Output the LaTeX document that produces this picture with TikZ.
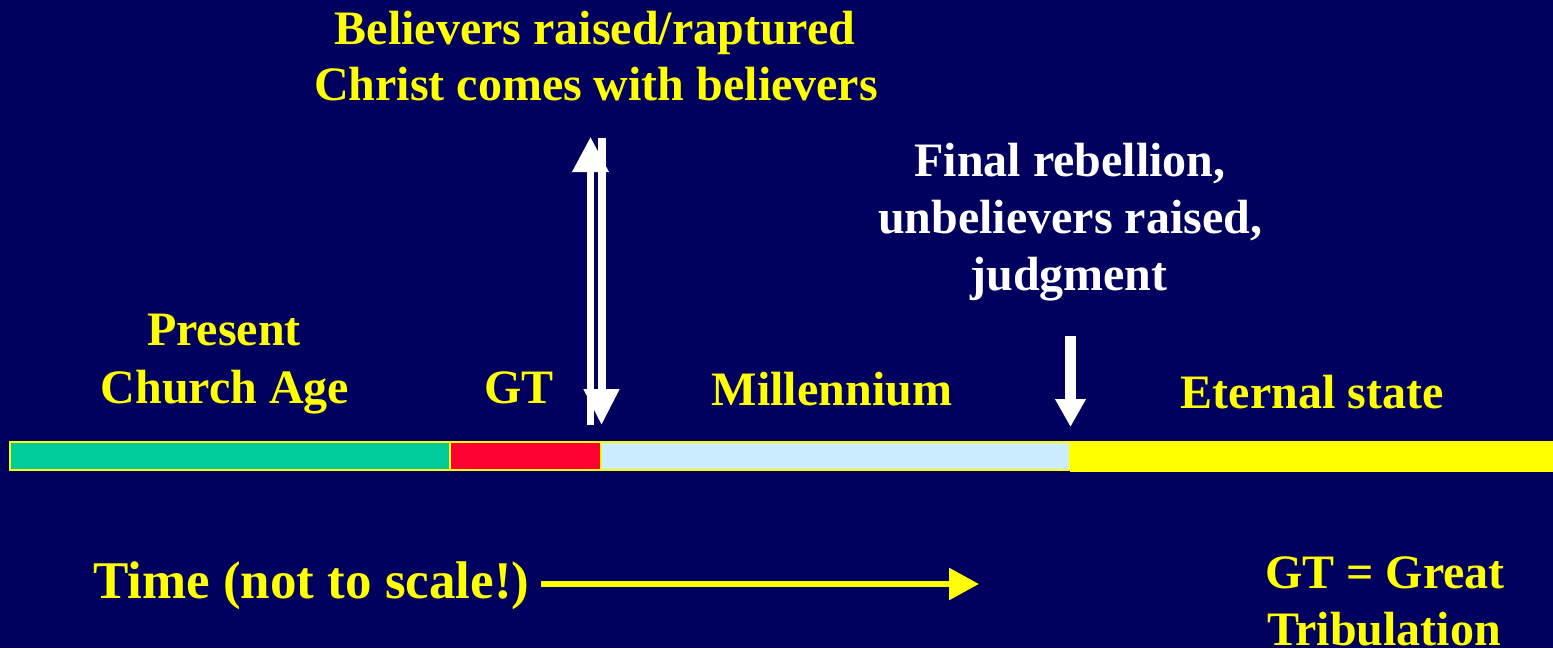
\documentclass[tikz,border=0pt]{standalone}
\usepackage{fontspec}
\setmainfont{Liberation Serif}
\usetikzlibrary{arrows.meta}
\definecolor{bgblue}{RGB}{0,0,94}
\definecolor{segGreen}{RGB}{0,204,153}
\definecolor{segRed}{RGB}{255,0,51}
\definecolor{segBlue}{RGB}{204,236,255}
\definecolor{segYellow}{RGB}{255,255,0}
\tikzset{
  lbl/.style={anchor=base, inner sep=0pt, font=\fontsize{48}{57}\selectfont\bfseries, text=segYellow},
  wlbl/.style={lbl, text=white},
  seg/.style={draw=segYellow, line width=2.5pt},
}
\begin{document}
\begin{tikzpicture}[x=1pt,y=-1pt]
\fill[bgblue] (0,0) rectangle (1553,648);
\useasboundingbox (0,0) rectangle (1553,648);

% timeline bar
\fill[segYellow] (1070,441) rectangle (1553,472);
\path[seg, fill=segGreen] (10,442) rectangle (450,470);
\path[seg, fill=segRed] (450,442) rectangle (601,470);
\path[seg, fill=segBlue] (601,442) rectangle (1070,470);

% labels
\node[lbl] (rapt1) at (595,44) {Believers raised/raptured};
\node[lbl] (rapt2) at (596,100) {Christ comes with believers};
\node[wlbl] (fin1) at (1070,176) {Final rebellion,};
\node[wlbl] (fin2) at (1070,233) {unbelievers raised,};
\node[wlbl] (fin3) at (1069,290) {judgment};
\node[lbl] (pres1) at (224,345) {Present};
\node[lbl] (pres2) at (225,403) {Church Age};
\node[lbl] (gt) at (519,403) {GT};
\node[lbl] (mill) at (832,405) {Millennium};
\node[lbl] (etern) at (1312,408) {Eternal state};
\node[lbl, anchor=base west, font=\fontsize{53}{60}\selectfont\bfseries] (time) at (93,598) {Time (not to scale!)};
\node[lbl] (gt1) at (1385,588) {GT = Great};
\node[lbl] (gt2) at (1384,645) {Tribulation};

% arrows
\coordinate (upS) at (590.5,425);
\coordinate (upE) at (590.5,137);
\coordinate (dnS) at (601.5,138);
\coordinate (dnE) at (601.5,425);
\draw[white, line width=7pt, -{Triangle[width=35pt,length=35pt]}] (upS) -- (upE);
\draw[white, line width=8pt, -{Triangle[width=34pt,length=36pt]}] (dnS) -- (dnE);

\coordinate (jS) at (1070.5,336);
\coordinate (jE) at (1070.5,427);
\draw[white, line width=11pt, -{Triangle[width=29pt,length=28pt]}] (jS) -- (jE);

\coordinate (tS) at (541,584);
\coordinate (tE) at (979,584);
\draw[segYellow, line width=6pt, -{Triangle[width=31pt,length=30pt]}] (tS) -- (tE);
\end{tikzpicture}
\end{document}
